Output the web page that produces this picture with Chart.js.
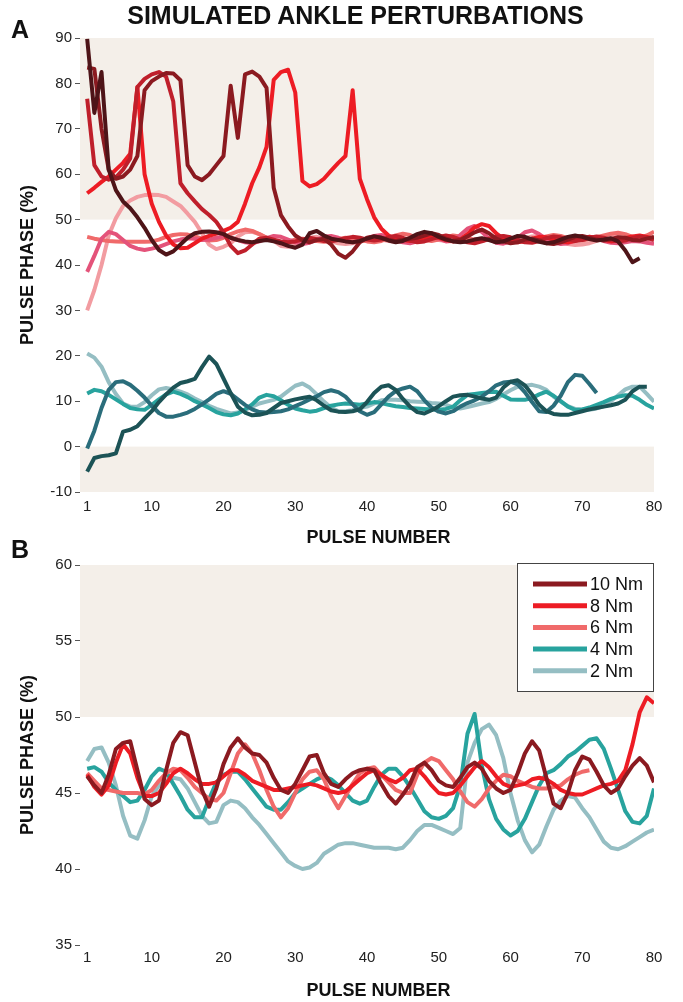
<!DOCTYPE html>
<html>
<head>
<meta charset="utf-8">
<script src="https://cdn.jsdelivr.net/npm/chart.js@4.4.1/dist/chart.umd.min.js"></script>
<style>
  body { margin: 0; background: #fff; font-family: "Liberation Sans", Arial, sans-serif; }
  #wrap { position: relative; width: 683px; height: 1002px; overflow: hidden; }
  canvas { position: absolute; left: 0; }
  .ttl { position: absolute; left: 0; width: 711px; top: 0px; line-height: 30px; text-align: center; font-weight: bold; font-size: 25px; color: #111; }
  .pl { position: absolute; left: 11px; font-weight: bold; font-size: 25px; line-height: 28px; color: #111; }
  .xt { position: absolute; left: 0; width: 757px; text-align: center; font-weight: bold; font-size: 18px; line-height: 22px; color: #111; }
</style>
</head>
<body>
<div id="wrap">
  <canvas id="chartA" width="683" height="548" style="top:0"></canvas>
  <canvas id="chartB" width="683" height="454" style="top:548px"></canvas>
  <div class="ttl">SIMULATED ANKLE PERTURBATIONS</div>
  <div class="pl" style="top:15px">A</div>
  <div class="pl" style="top:535px">B</div>
  <div class="xt" style="top:526px">PULSE NUMBER</div>
  <div class="xt" style="top:979px">PULSE NUMBER</div>
</div>
<script>
// tick labels
const pulseTicks = [1, 10, 20, 30, 40, 50, 60, 70, 80];
const phaseTicksA = [-10, 0, 10, 20, 30, 40, 50, 60, 70, 80, 90];
const phaseTicksB = [35, 40, 45, 50, 55, 60];
const shadeA = [[50, 90], [-10, 0]];
const shadeB = [[50, 60]];

// panel A, red group (one value per pulse, starting at pulse 1)
const aMaroon = [89.8, 73.5, 82.5, 61, 56.5, 54, 52.5, 50.5, 48.2, 45.5, 43.3, 42.3, 43.0, 44.5, 46.0, 47.0, 47.3, 47.4, 47.2, 46.8,
  46.0, 45.5, 45.2, 45.0, 45.3, 45.5, 45.2, 44.8, 44.2, 43.8, 44.5, 47.0, 47.5, 46.5, 45.8, 45.5, 45.2, 45.0, 45.3, 45.8,
  46.3, 46.0, 45.4, 45.0, 45.3, 46.0, 46.8, 47.3, 47.0, 46.2, 45.6, 45.2, 45.0, 45.2, 45.6, 45.9, 45.5, 45.0, 45.2, 45.8,
  46.4, 46.2, 45.6, 45.1, 44.8, 45.0, 45.6, 46.2, 46.5, 46.2, 45.7, 45.4, 45.6, 45.9, 45.2, 43.2, 40.6, 41.5];
const aDarkRed = [83.5, 83.2, 70, 61, 59, 59.5, 61, 64, 78.5, 80.5, 81.5, 82.3, 82.2, 80.7, 62, 59.5, 58.7, 60, 62, 64,
  79.5, 68, 82, 82.6, 81.5, 79, 57, 51, 48.5, 46.5, 45.5, 45.0, 45.5, 45.8, 44.5, 42.5, 41.6, 43.0, 45.0, 46.0,
  46.3, 46.0, 45.5, 45.3, 45.5, 45.8, 46.0, 46.5, 47.0, 46.6, 45.8, 45.3, 45.5, 46.3, 47.2, 47.8, 47.0, 45.8, 45.2, 44.8,
  45.0, 45.6, 45.8, 45.4, 44.8, 44.6, 45.0, 45.6, 46.2, 46.4, 46.0, 45.6, 45.4, 45.7, 46.1, 46.0, 45.5, 45.4, 45.8, 46.2];
const aCrimson = [76.6, 62, 59.5, 58.8, 59.3, 61, 63.5, 79.2, 81, 82, 82.5, 81.5, 76, 58, 55.8, 54, 52.3, 51, 49.5, 47.2,
  44.2, 42.6, 43.2, 44.5, 45.8, 46.0, 45.6, 45.2, 45.0, 45.2, 45.6, 46.0, 45.7, 45.3, 45.2, 45.5, 45.9, 46.2, 46.0, 45.6,
  45.4, 45.6, 46.1, 46.4, 46.0, 45.4, 45.0, 45.2, 45.7, 46.2, 46.5, 46.2, 45.6, 45.0, 44.8, 45.2, 45.8, 46.2, 46.4, 46.1,
  45.5, 45.0, 44.9, 45.3, 45.9, 46.3, 46.1, 45.6, 45.3, 45.5, 46.0, 46.3, 46.0, 45.5, 45.2, 45.4, 45.9, 46.3, 46.0, 45.5];
const aRed = [55.8, 57, 58.3, 59.5, 61, 62.5, 64.5, 79.2, 60, 53.5, 49.5, 46.5, 44.5, 43.7, 43.8, 44.8, 45.8, 46.4, 46.9, 47.5,
  48.2, 49.5, 53.5, 58, 61.5, 66, 80.8, 82.5, 83, 78, 58.5, 57.3, 57.8, 59, 60.8, 62.5, 64, 78.5, 59, 54.5,
  50.5, 48, 46.5, 45.8, 45.5, 45.3, 45.5, 45.9, 46.2, 46.0, 45.5, 45.2, 45.6, 46.8, 48.3, 49.0, 48.6, 47.0, 45.8, 45.2,
  45.0, 45.3, 45.8, 46.2, 46.1, 45.6, 45.2, 45.0, 45.3, 45.8, 46.2, 46.0, 45.5, 45.2, 45.4, 45.9, 46.3, 46.5, 46.2, 45.8];
const aRose = [38.5, 42, 45.8, 47.3, 46.8, 45.5, 44.2, 43.6, 43.3, 43.6, 44.0, 44.6, 45.2, 45.6, 45.9, 45.8, 45.5, 45.6, 46.0, 46.3,
  46.0, 45.5, 45.0, 44.8, 45.2, 45.9, 46.4, 46.2, 45.6, 45.0, 44.6, 44.9, 45.6, 46.2, 46.4, 46.0, 45.4, 45.0, 45.3, 45.9,
  46.4, 46.6, 46.2, 45.6, 45.0, 44.8, 45.2, 45.9, 46.2, 45.8, 45.2, 45.4, 46.6, 48.0, 48.6, 47.3, 45.8, 44.9, 44.7, 45.2,
  46.0, 47.2, 47.6, 46.8, 45.7, 45.0, 44.6, 44.8, 45.4, 46.0, 46.2, 45.8, 45.3, 44.9, 44.8, 45.0, 45.3, 45.2, 44.9, 44.7];
const aSalmon = [46.2, 45.8, 45.5, 45.3, 45.2, 45.1, 45.1, 45.1, 45.1, 45.2, 45.6, 46.2, 46.6, 46.8, 46.7, 46.3, 45.8, 45.4, 45.5, 46.0,
  46.8, 47.4, 47.8, 47.5, 46.8, 46.0, 45.4, 45.0, 45.2, 45.6, 45.8, 45.6, 45.3, 45.1, 45.3, 45.7, 46.0, 45.9, 45.5, 45.2,
  45.0, 45.3, 45.9, 46.5, 46.9, 46.6, 46.0, 45.5, 45.3, 45.6, 46.1, 46.5, 46.3, 45.9, 45.5, 45.3, 45.6, 46.1, 46.3, 45.9,
  45.4, 45.1, 45.3, 45.8, 46.3, 46.6, 46.4, 45.9, 45.5, 45.4, 45.7, 46.1, 46.5, 46.9, 47.1, 46.8, 46.2, 46.0, 46.5, 47.3];
const aPink = [30.0, 34.5, 40, 46.5, 50.3, 53, 54.2, 55.0, 55.4, 55.5, 55.4, 55.0, 54.0, 53.0, 51.3, 49.5, 47.0, 44.5, 43.5, 44.0,
  44.8, 46.3, 47.2, 47.3, 46.8, 46.0, 45.3, 44.2, 44.0, 44.3, 45.0, 46.0, 46.2, 45.8, 45.2, 44.8, 44.6, 44.8, 45.2, 45.6,
  45.8, 45.6, 45.3, 45.1, 45.2, 45.5, 45.8, 46.0, 45.8, 45.5, 45.3, 45.2, 45.3, 45.5, 45.7, 45.8, 45.8, 45.6, 45.4, 45.3,
  45.5, 45.9, 46.3, 46.4, 46.1, 45.6, 45.0, 44.6, 44.4, 44.5, 44.8, 45.3, 45.8, 46.2, 46.3, 45.9, 45.4, 45.3, 45.6, 46.2];

// panel A, teal group
const aDeepTeal = [-5.5, -2.5, -2.1, -1.9, -1.5, 3.3, 3.7, 4.5, 6.2, 7.8, 9.8, 11.5, 13.0, 14.0, 14.4, 14.9, 17.5, 19.8, 18.2, 15.0,
  11.8, 8.8, 7.5, 6.9, 7.0, 7.4, 8.5, 9.6, 10.0, 10.4, 10.7, 11.0, 10.2, 9.0, 8.0, 7.7, 7.6, 7.8, 8.2, 9.8,
  11.8, 13.2, 13.5, 12.5, 10.5, 8.8, 7.6, 7.3, 8.0, 8.9, 10.0, 11.0, 11.3, 11.4, 11.0, 10.6, 10.3, 10.8, 13.0, 14.3,
  14.6, 13.5, 11.5, 9.2, 7.8, 7.2, 7.0, 7.0, 7.4, 7.8, 8.2, 8.5, 8.8, 9.1, 9.5, 10.3, 12.2, 13.2, 13.2];
const aSlateTeal = [-0.4, 3.5, 8.5, 12.5, 14.2, 14.4, 13.6, 12.3, 10.8, 9.0, 7.4, 6.6, 6.6, 7.0, 7.5, 8.3, 9.3, 10.4, 11.6, 12.2,
  11.6, 10.4, 9.2, 8.2, 7.6, 7.5, 7.6, 7.8, 8.2, 8.9, 9.6, 10.4, 11.1, 12.0, 12.4, 12.0, 11.0, 9.3, 7.8, 7.0,
  7.6, 9.3, 11.0, 12.2, 12.8, 13.2, 12.2, 10.2, 8.6, 7.7, 7.3, 7.8, 8.8, 9.6, 10.2, 11.0, 12.2, 13.5, 14.1, 14.3,
  13.7, 12.0, 9.8, 7.8, 7.6, 9.0, 11.2, 14.2, 15.8, 15.6, 13.8, 11.8];
const aTeal = [11.7, 12.5, 12.2, 11.4, 10.4, 9.4, 8.5, 8.2, 8.1, 9.2, 10.4, 11.5, 12.1, 11.6, 10.9, 10.0, 9.3, 8.5, 7.6, 7.1,
  6.9, 7.3, 8.2, 9.3, 10.8, 11.4, 11.1, 10.2, 9.2, 8.4, 8.0, 7.7, 7.9, 8.5, 9.0, 9.3, 9.5, 9.4, 9.2, 9.5,
  9.8, 9.6, 9.2, 8.9, 8.7, 8.5, 8.4, 8.3, 8.2, 8.1, 8.3, 8.8, 10.2, 11.4, 11.6, 11.8, 12.0, 12.1, 11.2, 10.4,
  10.3, 10.3, 10.7, 11.5, 12.1, 11.2, 10.0, 8.8, 8.1, 8.2, 8.6, 9.2, 9.8, 10.5, 11.0, 11.3, 11.2, 10.3, 9.2, 8.4];
const aMist = [20.5, 19.6, 17.6, 14.2, 11.6, 9.5, 8.8, 8.8, 9.8, 11.3, 12.6, 12.9, 12.6, 12.1, 11.5, 10.6, 9.8, 9.0, 8.3, 7.8,
  7.3, 7.5, 8.1, 8.8, 9.5, 9.9, 10.3, 11.0, 12.2, 13.4, 13.9, 13.0, 11.5, 9.9, 8.6, 7.8, 7.8, 8.0, 8.5, 8.8,
  9.5, 10.2, 10.3, 10.3, 10.2, 10.0, 9.9, 9.8, 9.6, 9.5, 9.2, 8.7, 8.4, 8.7, 9.1, 9.5, 9.8, 10.5, 11.5, 12.4,
  13.2, 13.4, 13.6, 13.2, 12.5, 11.0, 9.9, 8.9, 8.3, 8.2, 8.1, 8.4, 8.9, 10.0, 11.3, 12.6, 13.2, 13.2, 11.6, 9.9];

// panel B, by perturbation torque
const legendLabels = ['10 Nm', '8 Nm', '6 Nm', '4 Nm', '2 Nm'];
const nm10 = [46.1, 45.5, 45.0, 46.2, 47.9, 48.3, 48.4, 46.5, 44.6, 44.2, 44.5, 46.5, 48.3, 49.0, 48.8, 47.0, 45.2, 44.1, 45.3, 46.9,
  48.0, 48.6, 48.0, 47.6, 47.5, 47.0, 46.0, 45.2, 45.0, 45.6, 46.5, 47.4, 47.5, 46.3, 45.6, 45.4, 45.9, 46.3, 46.5, 46.6,
  46.5, 45.6, 44.8, 44.3, 44.9, 45.6, 46.7, 47.0, 46.5, 45.8, 45.5, 45.4, 46.0, 46.7, 47.0, 46.6, 45.8, 45.3, 45.0, 45.2,
  46.3, 47.6, 48.4, 47.8, 46.0, 44.3, 44.0, 45.0, 46.5, 47.4, 47.2, 46.4, 45.5, 45.0, 45.3, 46.1, 46.8, 47.3, 46.8, 45.7];
const nm8 = [46.2, 45.4, 44.9, 45.5, 47.0, 48.2, 47.6, 46.0, 44.8, 44.8, 45.0, 45.6, 46.3, 46.6, 46.3, 45.9, 45.6, 45.6, 45.7, 46.1,
  46.5, 46.5, 46.2, 45.8, 45.6, 45.4, 45.2, 45.2, 45.3, 45.4, 45.5, 45.6, 45.5, 45.3, 45.1, 45.0, 45.1, 45.5, 45.9, 46.3,
  46.5, 46.2, 45.9, 45.7, 46.0, 46.5, 46.6, 46.1, 45.5, 45.0, 44.9, 45.0, 45.5, 46.1, 46.7, 47.1, 46.7, 46.1, 45.6, 45.4,
  45.5, 45.6, 45.9, 46.0, 45.9, 45.6, 45.2, 45.0, 44.9, 44.9, 45.1, 45.3, 45.5, 45.6, 45.8, 46.5, 48.2, 50.3, 51.3, 50.9];
const nm6 = [46.3, 45.8, 45.3, 45.2, 45.1, 45.0, 45.0, 45.0, 44.9, 45.2, 45.8, 46.3, 46.6, 46.5, 46.0, 45.4, 45.0, 44.6, 44.5, 45.0,
  46.3, 47.6, 48.2, 47.6, 46.5, 45.2, 44.1, 43.4, 44.0, 45.0, 45.9, 46.4, 46.5, 45.9, 44.8, 44.0, 44.8, 45.6, 46.3, 46.6,
  46.7, 46.2, 45.7, 45.2, 45.0, 45.0, 46.2, 47.0, 47.3, 47.1, 46.5, 45.9, 45.1, 44.4, 44.1, 44.6, 45.3, 45.8, 46.2, 46.1,
  45.8, 45.6, 45.4, 45.3, 45.3, 45.4, 45.5, 45.9, 46.2, 46.4, 46.5];
const nm4 = [46.6, 46.7, 46.4, 45.7, 45.2, 44.8, 44.4, 44.5, 45.2, 46.1, 46.6, 46.4, 45.6, 44.8, 43.9, 43.4, 43.4, 44.6, 45.7, 46.2,
  46.4, 46.4, 45.9, 45.3, 44.7, 44.1, 43.9, 43.9, 44.4, 45.0, 45.3, 45.6, 45.9, 46.1, 45.9, 45.5, 45.0, 44.5, 44.3, 44.5,
  45.4, 46.2, 46.6, 46.6, 46.1, 45.4, 44.6, 43.8, 43.4, 43.3, 43.5, 44.0, 45.5, 48.9, 50.2, 46.8, 44.6, 43.3, 42.6, 42.2,
  42.5, 43.3, 44.4, 45.5, 46.3, 46.5, 46.9, 47.4, 47.7, 48.1, 48.5, 48.6, 47.9, 46.6, 45.2, 43.8, 43.1, 43.0, 43.5, 45.3];
const nm2 = [47.1, 47.9, 48.0, 47.0, 45.5, 43.5, 42.2, 42.0, 43.2, 44.8, 45.5, 45.8, 46.0, 45.9, 45.3, 44.4, 43.5, 43.0, 43.1, 44.2,
  44.5, 44.4, 44.0, 43.4, 42.9, 42.3, 41.7, 41.1, 40.5, 40.2, 40.0, 40.1, 40.4, 41.0, 41.3, 41.6, 41.7, 41.7, 41.6, 41.5,
  41.4, 41.4, 41.4, 41.3, 41.4, 41.9, 42.5, 42.9, 42.9, 42.7, 42.5, 42.3, 42.7, 47.0, 48.3, 49.2, 49.5, 48.8, 47.3, 45.0,
  43.2, 41.9, 41.1, 41.6, 42.8, 43.9, 44.5, 44.8, 44.7, 44.0, 43.4, 42.6, 41.8, 41.4, 41.3, 41.5, 41.8, 42.1, 42.4, 42.6];

const FONT = '"Liberation Sans", Arial, sans-serif';

function toPoints(values) {
  return values.map((v, i) => ({ x: i + 1, y: v }));
}

function line(label, values, color) {
  return {
    label,
    data: toPoints(values),
    borderColor: color,
    backgroundColor: color,
    borderWidth: 4,
    borderJoinStyle: 'round',
    pointRadius: 0,
    fill: false,
    tension: 0,
  };
}

// beige background bands
function shadePlugin(bands) {
  return {
    id: 'shade',
    beforeDatasetsDraw(chart) {
      const { ctx, chartArea, scales } = chart;
      ctx.save();
      ctx.fillStyle = '#f4efe9';
      bands.forEach(([lo, hi]) => {
        const top = scales.y.getPixelForValue(hi);
        const bottom = scales.y.getPixelForValue(lo);
        ctx.fillRect(chartArea.left, top, chartArea.right - chartArea.left, bottom - top);
      });
      ctx.restore();
    },
  };
}

// boxed legend in the top right corner of panel B
const boxLegend = {
  id: 'boxLegend',
  afterDatasetsDraw(chart) {
    const { ctx, chartArea } = chart;
    const w = 137, h = 129;
    const left = chartArea.right - w, top = chartArea.top - 2;
    ctx.save();
    ctx.fillStyle = '#fff';
    ctx.fillRect(left, top, w, h);
    ctx.strokeStyle = '#444';
    ctx.lineWidth = 1;
    ctx.strokeRect(left + 0.5, top + 0.5, w - 1, h - 1);
    ctx.font = '18px ' + FONT;
    ctx.textBaseline = 'middle';
    chart.data.datasets.forEach((ds, i) => {
      const y = top + 21 + i * 21.7;
      ctx.strokeStyle = ds.borderColor;
      ctx.lineWidth = 5;
      ctx.beginPath();
      ctx.moveTo(left + 16, y);
      ctx.lineTo(left + 70, y);
      ctx.stroke();
      ctx.fillStyle = '#111';
      ctx.fillText(ds.label, left + 73, y + 1);
    });
    ctx.restore();
  },
};

function makeChart(id, datasets, yRange, yTicks, bands, padTop, xHeight, xTickPad, extraPlugins) {
  return new Chart(document.getElementById(id), {
    type: 'line',
    data: { datasets },
    options: {
      responsive: false,
      animation: false,
      layout: { padding: { top: padTop, right: 29, bottom: 0, left: 0 } },
      plugins: { legend: { display: false }, tooltip: { enabled: false } },
      scales: {
        x: {
          type: 'linear',
          min: 0,
          max: 80,
          afterBuildTicks: (scale) => { scale.ticks = pulseTicks.map((v) => ({ value: v })); },
          afterFit: (scale) => { scale.height = xHeight; },
          grid: { display: false, drawTicks: false },
          border: { display: false },
          ticks: { padding: xTickPad, color: '#222', font: { family: FONT, size: 15 }, maxRotation: 0 },
        },
        y: {
          min: yRange[0],
          max: yRange[1],
          afterBuildTicks: (scale) => { scale.ticks = yTicks.map((v) => ({ value: v })); },
          afterFit: (scale) => { scale.width = 80; },
          grid: { drawOnChartArea: false, drawTicks: true, tickLength: 5, color: '#555' },
          border: { display: false },
          ticks: { padding: 3, color: '#222', font: { family: FONT, size: 15 } },
          title: {
            display: true, text: 'PULSE PHASE (%)', color: '#111',
            font: { family: FONT, size: 18, weight: 'bold' },
            padding: { top: 17, bottom: 0 },
          },
        },
      },
    },
    plugins: [shadePlugin(bands)].concat(extraPlugins || []),
  });
}

const datasetsA = [
  line('A maroon', aMaroon, '#4e1418'),
  line('A dark red', aDarkRed, '#8b1a20'),
  line('A crimson', aCrimson, '#bf1f2b'),
  line('A red', aRed, '#ed1c24'),
  line('A rose', aRose, '#e4537a'),
  line('A salmon', aSalmon, '#f06a6a'),
  line('A pink', aPink, '#f29ca1'),
  line('A deep teal', aDeepTeal, '#1c5356'),
  line('A slate teal', aSlateTeal, '#2a6d7b'),
  line('A teal', aTeal, '#28a39e'),
  line('A mist', aMist, '#95bec3'),
];

const datasetsB = [
  line(legendLabels[0], nm10, '#8b1a20'),
  line(legendLabels[1], nm8, '#ed1c24'),
  line(legendLabels[2], nm6, '#f06a6a'),
  line(legendLabels[3], nm4, '#28a39e'),
  line(legendLabels[4], nm2, '#95bec3'),
];

makeChart('chartA', datasetsA, [-10, 90], phaseTicksA, shadeA, 38, 56, 6);
makeChart('chartB', datasetsB, [35, 60], phaseTicksB, shadeB, 17, 57, 4, [boxLegend]);
</script>
</body>
</html>
